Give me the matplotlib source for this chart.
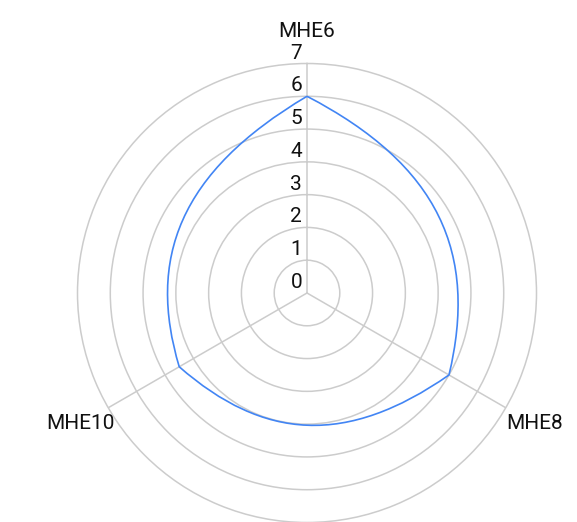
import numpy as np
import matplotlib
matplotlib.use("Agg")
import matplotlib.pyplot as plt
from matplotlib.path import Path
from matplotlib.patches import PathPatch

plt.rcParams["font.family"] = ["Roboto", "DejaVu Sans"]

categories = ["MHE6", "MHE8", "MHE10"]
values = [6, 5, 4.5]
r_ticks = [0, 1, 2, 3, 4, 5, 6, 7]

W, H = 577, 522
cx, cy = 307, H - 293   # centre of the radar, pixels from bottom-left
R = 229.5               # radius of the outer ring (value 7), pixels

fig = plt.figure(figsize=(W / 100, H / 100), dpi=100)
ax = fig.add_axes([(cx - R) / W, (cy - R) / H, 2 * R / W, 2 * R / H], projection="polar")
ax.set_theta_offset(np.pi / 2)
ax.set_theta_direction(-1)
ax.set_ylim(0, r_ticks[-1])

angles = np.arange(len(categories)) * 2 * np.pi / len(categories)
ax.set_xticks(angles)
ax.set_xticklabels([])
ax.set_yticks(r_ticks[1:-1])
ax.set_yticklabels([])
ax.grid(color="#cccccc", lw=1.1)
ax.spines["polar"].set_color("#cccccc")
ax.spines["polar"].set_linewidth(1.1)
ax.tick_params(length=0)


def unit(a):
    # radial and clockwise-tangent unit vectors (x right, y up, angle from top)
    return np.array([np.sin(a), np.cos(a)]), np.array([np.cos(a), -np.sin(a)])


# curved segments between neighbouring points (cubic bezier in x/y, handed
# back to the polar axes as theta/r so the axes does the projection)
k = 0.76
n = len(values)
verts, codes = [], []
for i in range(n):
    r1, a1 = values[i], angles[i]
    r2, a2 = values[(i + 1) % n], angles[(i + 1) % n]
    u1, t1 = unit(a1)
    u2, t2 = unit(a2)
    d1 = np.radians(22 + 30 * np.log(r1 / r2))
    d2 = np.radians(22 + 30 * np.log(r2 / r1))
    P1, P2 = r1 * u1, r2 * u2
    C1 = P1 + k * r1 * (np.cos(d1) * t1 - np.sin(d1) * u1)
    C2 = P2 + k * r2 * (-np.cos(d2) * t2 - np.sin(d2) * u2)
    if i == 0:
        verts.append(P1)
        codes.append(Path.MOVETO)
    verts += [C1, C2, P2]
    codes += [Path.CURVE4] * 3
verts = np.array(verts)
th = np.arctan2(verts[:, 0], verts[:, 1])
rr = np.hypot(verts[:, 0], verts[:, 1])
path = Path(np.column_stack([th, rr]), codes)
ax.add_patch(PathPatch(path, fill=False, edgecolor="#4285f4", lw=1.2, zorder=5))

# radial tick labels, left of the top spoke
for t in r_ticks:
    ax.annotate(str(t), xy=(0, t), xytext=(-5, 5), textcoords="offset pixels",
                ha="right", va="baseline", fontsize=15, color="#111111")

# category labels
ax.annotate(categories[0], xy=(angles[0], r_ticks[-1]), xytext=(0, 27), textcoords="offset pixels",
            ha="center", va="baseline", fontsize=15, color="#111111")
ax.annotate(categories[1], xy=(angles[1], r_ticks[-1]), xytext=(0, -21.5), textcoords="offset pixels",
            ha="left", va="baseline", fontsize=15, color="#111111")
ax.annotate(categories[2], xy=(angles[2], r_ticks[-1]), xytext=(6, -21.5), textcoords="offset pixels",
            ha="right", va="baseline", fontsize=15, color="#111111")

fig.savefig("out.png", dpi=100)
